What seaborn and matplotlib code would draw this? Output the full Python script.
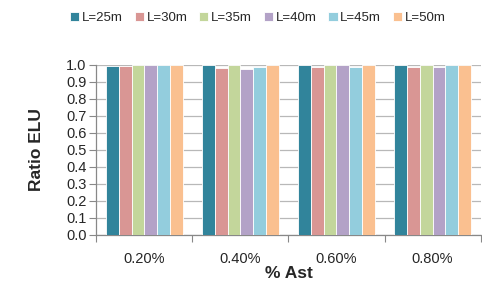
import numpy as np
import pandas as pd
import matplotlib
matplotlib.use("Agg")
import matplotlib.pyplot as plt
import seaborn as sns

# data
categories = ['0.20%', '0.40%', '0.60%', '0.80%']
series = ['L=25m', 'L=30m', 'L=35m', 'L=40m', 'L=45m', 'L=50m']
ratio_25 = [0.992, 0.997, 1.000, 1.000]
ratio_30 = [0.993, 0.985, 0.988, 0.988]
ratio_35 = [1.000, 1.000, 1.000, 1.000]
ratio_40 = [1.000, 0.975, 1.000, 0.988]
ratio_45 = [1.000, 0.990, 0.990, 1.000]
ratio_50 = [1.000, 1.000, 1.000, 1.000]
colors = ['#31849B', '#D99694', '#C3D69B', '#B3A2C7', '#93CDDD', '#FAC090']

all_vals = [ratio_25, ratio_30, ratio_35, ratio_40, ratio_45, ratio_50]
df = pd.DataFrame({
    'Ast': np.tile(categories, len(series)),
    'L': np.repeat(series, len(categories)),
    'Ratio': np.concatenate(all_vals),
})

sns.set_style("white")
plt.rcParams['font.family'] = ['Liberation Sans', 'DejaVu Sans']

fig = plt.figure(figsize=(4.82, 2.90), dpi=100)
ax = fig.add_axes([0.2, 0.19, 0.797, 0.586])

sns.barplot(data=df, x='Ast', y='Ratio', hue='L', palette=colors, saturation=1,
            width=0.8, edgecolor='white', linewidth=0.6, ax=ax, zorder=3)

ax.set_ylim(0, 1.0)
ax.set_yticks(np.arange(0, 1.01, 0.1))
ax.set_yticklabels([f'{v:.1f}' for v in np.arange(0, 1.01, 0.1)], fontsize=10.5)
ax.yaxis.grid(True, color='#b8b8b8', linewidth=0.9, zorder=0)
ax.set_axisbelow(True)

ax.set_xlim(-0.5, 3.5)
ax.set_xticks([-0.5, 0.5, 1.5, 2.5, 3.5])
ax.set_xticklabels([])
ax.set_xticks([0, 1, 2, 3], minor=True)
ax.set_xticklabels(categories, minor=True, fontsize=10.5)
ax.tick_params(axis='x', which='major', length=5, color='#888888', direction='out', bottom=True)
ax.tick_params(axis='x', which='minor', length=0, pad=12)
ax.tick_params(axis='y', length=5, color='#888888', direction='out', left=True, pad=2)

for side in ['top', 'right']:
    ax.spines[side].set_visible(False)
for side in ['left', 'bottom']:
    ax.spines[side].set_color('#888888')
    ax.spines[side].set_linewidth(0.9)

ax.set_xlabel('% Ast', fontsize=12.5, fontweight='bold', labelpad=0)
ax.set_ylabel('Ratio ELU', fontsize=12.5, fontweight='bold', labelpad=16)

ax.legend(loc='center', bbox_to_anchor=(0.535, 0.938), bbox_transform=fig.transFigure,
          ncol=6, frameon=False, fontsize=9.5, handlelength=0.7, handleheight=0.7,
          handletextpad=0.2, columnspacing=0.9)

fig.savefig('out.png', dpi=100)
